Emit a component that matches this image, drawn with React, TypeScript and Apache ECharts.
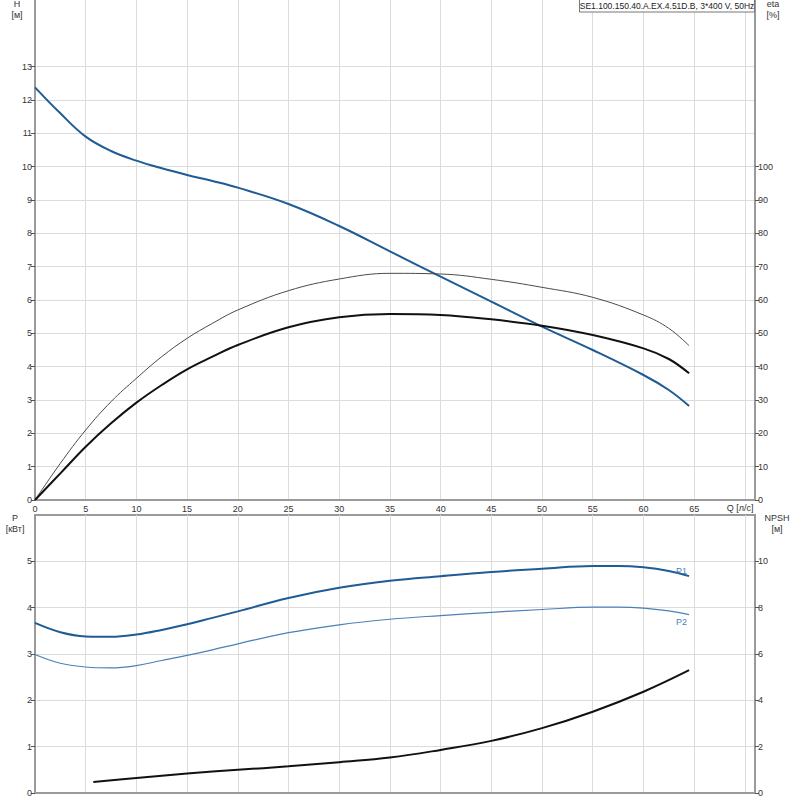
import React, { useEffect, useRef } from "react";
import * as echarts from "echarts";

const TITLE = "SE1.100.150.40.A.EX.4.51D.B, 3*400 V, 50Hz";

const qTop = [0, 2.5, 5, 7.5, 10, 12.5, 15, 17.5, 20, 25, 30, 35, 40, 45, 50, 55, 60, 62.5, 64.5];
const headH = [12.38, 11.6, 10.9, 10.47, 10.18, 9.95, 9.75, 9.57, 9.37, 8.88, 8.22, 7.46, 6.7, 5.95, 5.2, 4.5, 3.75, 3.3, 2.82];
const etaHyd = [0, 11, 21, 29.5, 36.5, 43, 48.5, 53, 57, 62.8, 66.3, 68, 67.8, 66.2, 63.8, 60.8, 55.5, 51.5, 46.3];
const etaTot = [0, 8, 16, 23, 29.2, 34.5, 39.2, 43, 46.5, 51.8, 54.8, 55.8, 55.5, 54.2, 52.3, 49.5, 45.5, 42.3, 38];

const qP = [0, 2.5, 5, 7.5, 10, 12.5, 15, 17.5, 20, 25, 30, 35, 40, 45, 50, 55, 57.5, 60, 62.5, 64.5];
const powerP1 = [3.67, 3.47, 3.38, 3.37, 3.42, 3.52, 3.64, 3.78, 3.92, 4.21, 4.43, 4.58, 4.68, 4.77, 4.84, 4.9, 4.9, 4.87, 4.79, 4.68];
const powerP2 = [2.99, 2.8, 2.72, 2.7, 2.75, 2.86, 2.97, 3.09, 3.22, 3.46, 3.63, 3.75, 3.83, 3.9, 3.96, 4.01, 4.01, 3.99, 3.93, 3.85];

const qNpsh = [5.75, 10, 15, 20, 25, 30, 35, 40, 45, 50, 55, 60, 64.5];
const npsh = [0.47, 0.65, 0.84, 1.0, 1.15, 1.33, 1.53, 1.86, 2.25, 2.8, 3.51, 4.37, 5.3];

const xTicks = [0, 5, 10, 15, 20, 25, 30, 35, 40, 45, 50, 55, 60, 65];
const hTicks = [0, 1, 2, 3, 4, 5, 6, 7, 8, 9, 10, 11, 12, 13];
const etaTicks = [0, 10, 20, 30, 40, 50, 60, 70, 80, 90, 100];
const pTicks = [0, 1, 2, 3, 4, 5];
const npshTicks = [0, 2, 4, 6, 8, 10];

const pairs = (xs: number[], ys: number[]) => xs.map((x, i) => [x, ys[i]]);

const FONT = "Liberation Sans, Arial, sans-serif";
const AXIS_C = "#9a9a9a";
const GRID_C = "#dcdcdc";
const TXT_C = "#333";
const BLUE = "#1f5b95";
const BLUE2 = "#4b80b8";

export default function App() {
  const ref = useRef<HTMLDivElement>(null);
  useEffect(() => {
    if (!ref.current) return;
    const chart = echarts.init(ref.current, null, { renderer: "svg" });
    const yCommon = (gridIndex: number, pos: "left" | "right", min: number, max: number, interval: number, ticks: number[], split: boolean) => ({
      type: "value",
      gridIndex,
      position: pos,
      min,
      max,
      interval,
      axisLine: { show: true, onZero: false, lineStyle: { color: AXIS_C, width: 2 } },
      axisTick: { show: true, length: 4, customValues: ticks, lineStyle: { color: "#555", width: 1 } },
      axisLabel: { fontSize: 9, color: TXT_C, fontFamily: FONT, margin: 3, customValues: ticks },
      splitLine: { show: split, lineStyle: { color: GRID_C, width: 1 } },
    });
    const lineSeries = (name: string, xi: number, yi: number, data: number[][], color: string, width: number, extra: any = {}) => ({
      name, type: "line", xAxisIndex: xi, yAxisIndex: yi, data, smooth: 0.4, showSymbol: false,
      lineStyle: { color, width }, ...extra,
    });
    chart.setOption({
      animation: false,
      textStyle: { fontFamily: FONT },
      grid: [
        { left: 35, top: 0, width: 720, height: 500, show: false },
        { left: 35, top: 515, width: 720, height: 278, show: true, borderColor: AXIS_C, borderWidth: 2, backgroundColor: "transparent" },
      ],
      xAxis: [
        {
          type: "value", gridIndex: 0, min: 0, max: 71, interval: 5,
          axisLine: { show: true, onZero: false, lineStyle: { color: AXIS_C, width: 2 } },
          axisTick: { show: false },
          axisLabel: { fontSize: 9, color: TXT_C, fontFamily: FONT, margin: 4, customValues: xTicks },
          splitLine: { show: true, lineStyle: { color: GRID_C, width: 1 } },
        },
        {
          type: "value", gridIndex: 1, min: 0, max: 71, interval: 5,
          axisLine: { show: true, onZero: false, lineStyle: { color: AXIS_C, width: 2 } },
          axisTick: { show: false },
          axisLabel: { show: false },
          splitLine: { show: true, lineStyle: { color: GRID_C, width: 1 } },
        },
      ],
      yAxis: [
        yCommon(0, "left", 0, 15, 1, hTicks, true),
        yCommon(0, "right", 0, 150, 10, etaTicks, false),
        yCommon(1, "left", 0, 6, 1, pTicks, true),
        yCommon(1, "right", 0, 12, 2, npshTicks, false),
      ],
      series: [
        lineSeries("H", 0, 0, pairs(qTop, headH), BLUE, 2),
        lineSeries("eta hyd", 0, 1, pairs(qTop, etaHyd), "#4a4a4a", 1),
        lineSeries("eta", 0, 1, pairs(qTop, etaTot), "#111", 2),
        lineSeries("P1", 1, 2, pairs(qP, powerP1), BLUE, 2, {
          endLabel: { show: true, formatter: "P1", color: BLUE2, fontSize: 9, fontFamily: FONT, distance: 0, offset: [-13, -5] },
        }),
        lineSeries("P2", 1, 2, pairs(qP, powerP2), BLUE2, 1.2, {
          endLabel: { show: true, formatter: "P2", color: BLUE2, fontSize: 9, fontFamily: FONT, distance: 0, offset: [-13, 7] },
        }),
        lineSeries("NPSH", 1, 3, pairs(qNpsh, npsh), "#111", 2),
      ],
      graphic: [
        { type: "text", x: 17, y: 4, style: { text: "H", fontSize: 9, fill: TXT_C, fontFamily: FONT, align: "center", verticalAlign: "middle" } },
        { type: "text", x: 17, y: 15, style: { text: "[м]", fontSize: 9, fill: TXT_C, fontFamily: FONT, align: "center", verticalAlign: "middle" } },
        { type: "text", x: 773, y: 4, style: { text: "eta", fontSize: 9, fill: TXT_C, fontFamily: FONT, align: "center", verticalAlign: "middle" } },
        { type: "text", x: 773, y: 15, style: { text: "[%]", fontSize: 9, fill: TXT_C, fontFamily: FONT, align: "center", verticalAlign: "middle" } },
        { type: "text", x: 740, y: 508, style: { text: "Q [л/с]", fontSize: 9, fill: TXT_C, fontFamily: FONT, align: "center", verticalAlign: "middle" } },
        { type: "text", x: 15, y: 518, style: { text: "P", fontSize: 9, fill: TXT_C, fontFamily: FONT, align: "center", verticalAlign: "middle" } },
        { type: "text", x: 15, y: 529, style: { text: "[кВт]", fontSize: 9, fill: TXT_C, fontFamily: FONT, align: "center", verticalAlign: "middle" } },
        { type: "text", x: 777, y: 518, style: { text: "NPSH", fontSize: 9, fill: TXT_C, fontFamily: FONT, align: "center", verticalAlign: "middle" } },
        { type: "text", x: 777, y: 529, style: { text: "[м]", fontSize: 9, fill: TXT_C, fontFamily: FONT, align: "center", verticalAlign: "middle" } },
        { type: "rect", shape: { x: 579.5, y: -1, width: 175, height: 13 }, style: { fill: "#fff", stroke: "#777", lineWidth: 1 }, z: 10 },
        { type: "text", x: 667, y: 6, z: 11, style: { text: TITLE, fontSize: 8.5, fill: "#222", fontFamily: FONT, align: "center", verticalAlign: "middle" } },
      ],
    });
    return () => chart.dispose();
  }, []);
  return <div ref={ref} style={{ position: "absolute", left: 0, top: 0, width: 800, height: 800, background: "#fff" }} />;
}
